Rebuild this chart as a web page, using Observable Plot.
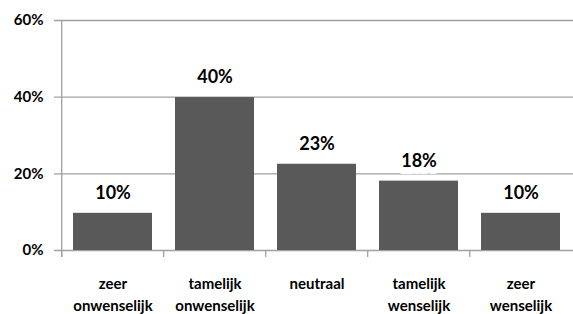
<!DOCTYPE html>
<html>
<head>
<meta charset="utf-8">
<script src="https://cdn.jsdelivr.net/npm/d3@7"></script>
<script src="https://cdn.jsdelivr.net/npm/@observablehq/plot@0.6"></script>
<style>
  body { margin: 0; background: #fff; }
</style>
</head>
<body>
<div id="chart"></div>
<script>
const categories = ["zeer onwenselijk", "tamelijk onwenselijk", "neutraal", "tamelijk wenselijk", "zeer wenselijk"];
const categoryLabels = ["zeer\nonwenselijk", "tamelijk\nonwenselijk", "neutraal", "tamelijk\nwenselijk", "zeer\nwenselijk"];
const values = [9.7, 39.9, 22.5, 18.1, 9.7];
const valueLabels = ["10%", "40%", "23%", "18%", "10%"];
const yTicks = [0, 20, 40, 60];

const data = categories.map((c, i) => ({category: c, value: values[i], label: valueLabels[i], axisLabel: categoryLabels[i]}));

const W = 573, H = 314, mL = 60, mR = 0, mT = 20, mB = 64;
const step = (W - mL - mR) / categories.length;
const font = "Lato, 'Open Sans', sans-serif";
const grey = "#a0a0a0";

const chart = Plot.plot({
  width: W,
  height: H,
  marginLeft: mL,
  marginRight: mR,
  marginTop: mT,
  marginBottom: mB,
  style: {fontFamily: font, background: "#fff"},
  x: {domain: categories, paddingInner: 0.23, paddingOuter: 0.115, axis: null},
  y: {domain: [0, 60], axis: null},
  marks: [
    Plot.ruleY(yTicks, {stroke: grey, strokeWidth: 1.3, insetLeft: -6}),
    Plot.ruleX([categories[0]], {dx: -step / 2, y1: 60, y2: 0, insetBottom: -7, stroke: grey, strokeWidth: 1.3}),
    Plot.ruleX(categories, {dx: -step / 2, y1: 0, y2: 0, insetBottom: -7, stroke: grey, strokeWidth: 1.3}),
    Plot.barY(data, {x: "category", y: "value", fill: "#595959"}),
    Plot.text(data, {x: "category", y: "value", text: "label", dy: -20, fontSize: 18, fontWeight: "bold", fill: "#000",
      stroke: "white", strokeWidth: 14, strokeLinejoin: "round"}),
    Plot.text(yTicks, {frameAnchor: "left", y: d => d, text: d => d + "%", dx: -17, textAnchor: "end",
      fontSize: 15, fontWeight: "bold", fill: "#000"}),
    Plot.text(data, {x: "category", y: 0, text: "axisLabel", dy: 23, lineAnchor: "top", lineHeight: 1.45,
      fontSize: 15, fontWeight: "bold", fill: "#000"})
  ]
});
document.getElementById("chart").appendChild(chart);
</script>
</body>
</html>
